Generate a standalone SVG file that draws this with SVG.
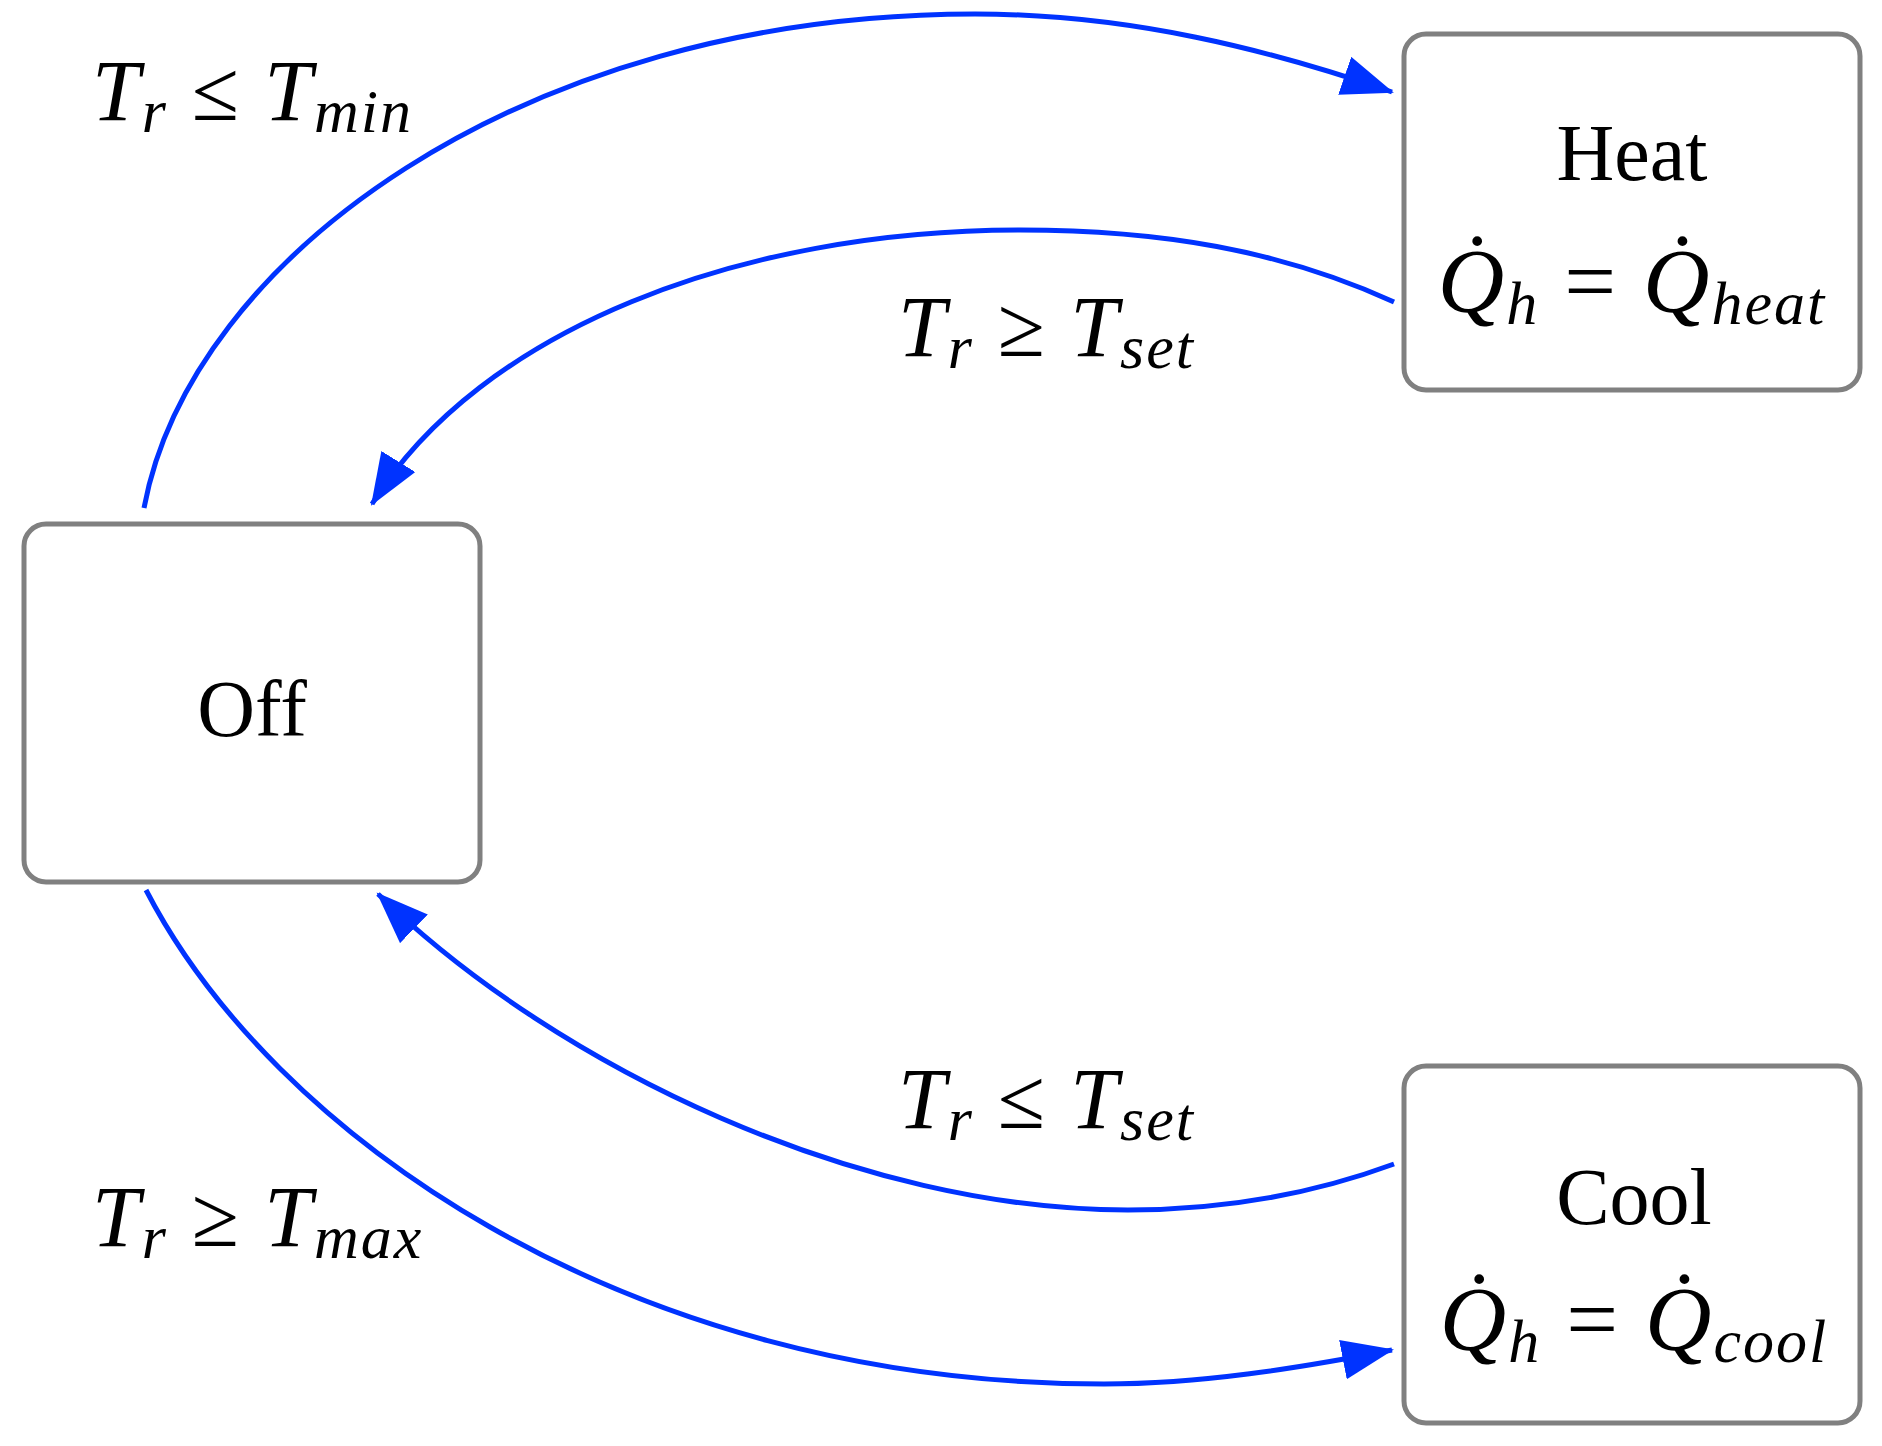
<svg xmlns="http://www.w3.org/2000/svg" width="1882" height="1446" viewBox="0 0 1882 1446">
<style>
.box{fill:#fff;stroke:#808080;stroke-width:5}
.edge{fill:none;stroke:#0033ff;stroke-width:5}
.t{font-family:"Liberation Serif",serif;font-size:80px;fill:#000}
.m{font-family:"Liberation Serif",serif;font-style:italic;font-size:86px;fill:#000;letter-spacing:2px}
.q{font-size:92px}
.s{font-size:62px}
.r{font-style:normal}
</style>
<defs>
<marker id="ah" markerUnits="userSpaceOnUse" markerWidth="54" markerHeight="40" refX="50" refY="20" orient="auto">
<path d="M0,0 L52,20 L0,40 Z" fill="#0033ff"/>
</marker>
</defs>
<rect width="1882" height="1446" fill="#fff"/>
<g id="connectors">
<path class="edge" marker-end="url(#ah)" d="M144,508 C190,260 520,14 975,14 C1130,14 1270,50 1392,92"/>
<path class="edge" marker-end="url(#ah)" d="M1394,302 C1280,250 1160,230 1020,230 C740,230 480,330 372,504"/>
<path class="edge" marker-end="url(#ah)" d="M1394,1164 C1310,1195 1220,1210 1128,1210 C860,1210 560,1070 378,894"/>
<path class="edge" marker-end="url(#ah)" d="M146,890 C270,1130 620,1384 1104,1384 C1200,1384 1300,1368 1392,1350"/>
</g>
<g id="labels">
<text class="m" x="92" y="120">T<tspan class="s" dy="12">r</tspan><tspan class="r" dy="-12"> ≤ </tspan>T<tspan class="s" dy="12">min</tspan></text>
<text class="m" x="898" y="356">T<tspan class="s" dy="12">r</tspan><tspan class="r" dy="-12"> ≥ </tspan>T<tspan class="s" dy="12">set</tspan></text>
<text class="m" x="898" y="1128">T<tspan class="s" dy="12">r</tspan><tspan class="r" dy="-12"> ≤ </tspan>T<tspan class="s" dy="12">set</tspan></text>
<text class="m" x="92" y="1246">T<tspan class="s" dy="12">r</tspan><tspan class="r" dy="-12"> ≥ </tspan>T<tspan class="s" dy="12">max</tspan></text>
</g>
<g id="off">
<rect class="box" x="24" y="524" width="456" height="358" rx="22"/>
<text class="t" x="252" y="736" text-anchor="middle">Off</text>
</g>
<g id="heat">
<rect class="box" x="1404" y="34" width="456" height="356" rx="22"/>
<text class="t" x="1632" y="180" text-anchor="middle">Heat</text>
<text class="m q" x="1632" y="312" text-anchor="middle">Q̇<tspan class="s" dy="12">h</tspan><tspan class="r" dy="-12"> = </tspan>Q̇<tspan class="s" dy="12">heat</tspan></text>
</g>
<g id="cool">
<rect class="box" x="1404" y="1066" width="456" height="357" rx="22"/>
<text class="t" x="1634" y="1224" text-anchor="middle">Cool</text>
<text class="m q" x="1634" y="1350" text-anchor="middle">Q̇<tspan class="s" dy="12">h</tspan><tspan class="r" dy="-12"> = </tspan>Q̇<tspan class="s" dy="12">cool</tspan></text>
</g>
</svg>
